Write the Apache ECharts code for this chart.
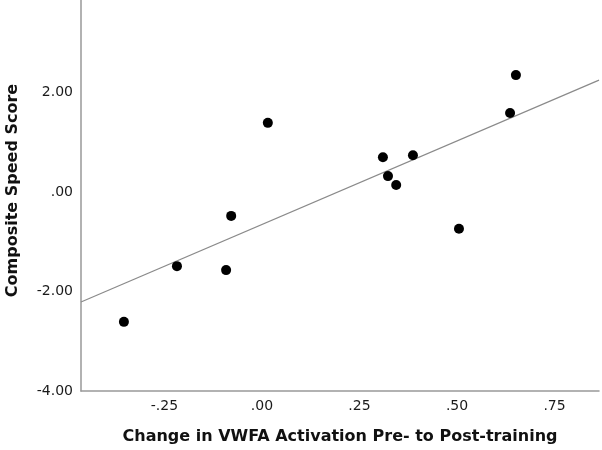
<!DOCTYPE html>
<html>
<head>
<meta charset="utf-8">
<script src="https://cdn.jsdelivr.net/npm/echarts@6/dist/echarts.min.js"></script>
<style>
html,body{margin:0;padding:0;background:#fff;}
#chart{width:602px;height:450px;}
</style>
</head>
<body>
<div id="chart"></div>
<script>
// Data
var vwfaChange = [-0.354, -0.218, -0.092, -0.079, 0.015, 0.310, 0.323, 0.344, 0.387, 0.505, 0.636, 0.651];
var speedScore = [-2.61, -1.49, -1.57, -0.48, 1.39, 0.70, 0.32, 0.14, 0.74, -0.74, 1.59, 2.35];
// Fit line end points
var fitX = [-0.464, 0.864];
var fitY = [-2.21, 2.25];
var xTicks = [-0.25, 0, 0.25, 0.5, 0.75];
var yTicks = [-4, -2, 0, 2];
var xTitle = 'Change in VWFA Activation Pre- to Post-training';
var yTitle = 'Composite Speed Score';

function fmt(v) {
  return Number(v).toFixed(2).replace(/^(-?)0\./, '$1.');
}

var points = vwfaChange.map(function (x, i) { return [x, speedScore[i]]; });
var fitLine = fitX.map(function (x, i) { return [x, fitY[i]]; });

var chart = echarts.init(document.getElementById('chart'), null, {renderer: 'canvas'});
var labelFont = {fontFamily: 'DejaVu Sans', fontSize: 14, color: '#1a1a1a'};
var titleFont = {fontFamily: 'DejaVu Sans', fontWeight: 'bold', fontSize: 16, color: '#111'};

chart.setOption({
  animation: false,
  backgroundColor: '#fff',
  grid: {left: 81, right: 3, top: 0, bottom: 59, containLabel: false, outerBoundsMode: 'none'},
  xAxis: {
    type: 'value',
    min: fitX[0], max: fitX[1],
    name: xTitle, nameLocation: 'middle', nameGap: 38,
    nameTextStyle: titleFont,
    axisLine: {show: true, onZero: false, lineStyle: {color: '#999', width: 1.5}},
    axisTick: {show: false},
    splitLine: {show: false},
    axisLabel: Object.assign({customValues: xTicks, formatter: fmt, margin: 8}, labelFont)
  },
  yAxis: {
    type: 'value',
    min: -4, max: 3.86,
    name: yTitle, nameLocation: 'middle', nameGap: 60,
    nameTextStyle: Object.assign({padding: [0, 0, 0, 10]}, titleFont),
    axisLine: {show: true, onZero: false, lineStyle: {color: '#999', width: 1.5}},
    axisTick: {show: false},
    splitLine: {show: false},
    axisLabel: Object.assign({customValues: yTicks, formatter: fmt, margin: 8}, labelFont)
  },
  series: [
    {
      type: 'line',
      data: fitLine,
      symbol: 'none',
      lineStyle: {color: '#8a8a8a', width: 1.2},
      silent: true,
      z: 1
    },
    {
      type: 'scatter',
      data: points,
      symbol: 'circle',
      symbolSize: 10,
      itemStyle: {color: '#000', opacity: 1},
      z: 2
    }
  ]
});
</script>
</body>
</html>
